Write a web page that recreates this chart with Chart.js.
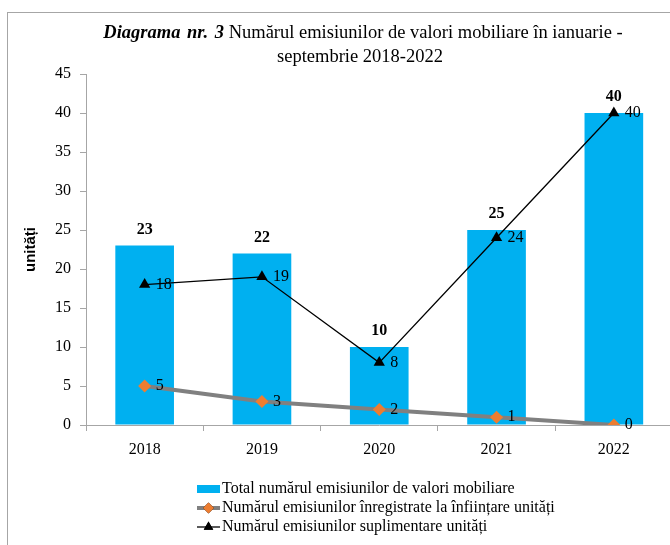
<!DOCTYPE html>
<html>
<head>
<meta charset="utf-8">
<script src="https://cdn.jsdelivr.net/npm/chart.js"></script>
<style>
      body { margin: 0; background: #fff; overflow: hidden; width: 670px; height: 545px; position: relative; }
      #frame { position: absolute; left: 7px; top: 12px; width: 700px; height: 600px; border-left: 1px solid #a6a6a6; border-top: 1px solid #a6a6a6; }
      #myChart { position: absolute; left: 0; top: 0; }
</style>
</head>
<body>
<div id="frame"></div>
<canvas id="myChart" width="725" height="545"></canvas>
<script>
/* данные графика */
const years = ['2018', '2019', '2020', '2021', '2022'];
const totalEmisiuni = [23, 22, 10, 25, 40];
const emisiuniInfiintare = [5, 3, 2, 1, 0];
const emisiuniSuplimentare = [18, 19, 8, 24, 40];
const yMin = 0, yMax = 45, yStep = 5;

const titleBold = 'Diagrama nr. 3';
const titleRest = ' Numărul emisiunilor de valori mobiliare în ianuarie -';
const titleLine2 = 'septembrie 2018-2022';
const yAxisTitle = 'unități';
const seriesNames = [
      'Total numărul emisiunilor de valori mobiliare',
      'Numărul emisiunilor înregistrate la înființare unități',
      'Numărul emisiunilor suplimentare unități'
];

const SERIF = '"Liberation Serif", "Times New Roman", serif';
const BLUE = '#00b0f0', ORANGE = '#ed7d31', GREY = '#808080';

/* заголовок из двух частей (жирный курсив + обычный) */
const titlePlugin = {
      id: 'mixedTitle',
      afterDraw(chart) {
            const ctx = chart.ctx;
            const cx = 363;
            ctx.save();
            ctx.fillStyle = '#000';
            ctx.textBaseline = 'middle';
            ctx.wordSpacing = '2px';
            ctx.font = 'italic bold 18.5px ' + SERIF;
            const w1 = ctx.measureText(titleBold).width;
            ctx.font = '18.5px ' + SERIF;
            const w2 = ctx.measureText(titleRest).width;
            let x = cx - (w1 + w2) / 2;
            ctx.textAlign = 'left';
            ctx.font = 'italic bold 18.5px ' + SERIF;
            ctx.fillText(titleBold, x, 33);
            ctx.font = '18.5px ' + SERIF;
            ctx.fillText(titleRest, x + w1, 33);
            ctx.wordSpacing = '0px';
            ctx.textAlign = 'center';
            ctx.fillText(titleLine2, cx - 3, 57);
            ctx.restore();
      }
};

/* подписи значений */
const labelsPlugin = {
      id: 'valueLabels',
      afterDatasetsDraw(chart) {
            const ctx = chart.ctx;
            ctx.save();
            ctx.fillStyle = '#000';
            chart.data.datasets.forEach((ds, i) => {
                  const meta = chart.getDatasetMeta(i);
                  meta.data.forEach((el, j) => {
                        const v = ds.data[j];
                        if (ds.type === 'bar') {
                              ctx.font = 'bold 16px ' + SERIF;
                              ctx.textAlign = 'center';
                              ctx.textBaseline = 'middle';
                              ctx.fillText(v, el.x, el.y - 16);
                        } else {
                              ctx.font = '16px ' + SERIF;
                              ctx.textAlign = 'left';
                              ctx.textBaseline = 'middle';
                              ctx.fillText(v, el.x + 11, el.y);
                        }
                  });
            });
            ctx.restore();
      }
};

/* легенда в столбик */
const legendPlugin = {
      id: 'colLegend',
      afterDraw(chart) {
            const ctx = chart.ctx;
            const x0 = 197, y0 = 489, dy = 19;
            ctx.save();
            ctx.font = '16px ' + SERIF;
            ctx.textBaseline = 'middle';
            ctx.textAlign = 'left';
            chart.data.datasets.forEach((ds, i) => {
                  const y = y0 + i * dy;
                  if (ds.type === 'bar') {
                        ctx.fillStyle = ds.backgroundColor;
                        ctx.fillRect(x0, y - 4, 23, 8);
                  } else {
                        ctx.strokeStyle = ds.borderColor;
                        ctx.lineWidth = ds.borderWidth;
                        ctx.beginPath();
                        ctx.moveTo(x0, y);
                        ctx.lineTo(x0 + 23, y);
                        ctx.stroke();
                        Chart.helpers.drawPoint(ctx, {
                              pointStyle: ds.pointStyle,
                              radius: ds.pointRadius - 1,
                              borderWidth: 0
                        }, x0 + 11.5, y);
                        ctx.fillStyle = ds.pointBackgroundColor;
                        ctx.fill();
                  }
                  ctx.fillStyle = '#000';
                  ctx.fillText(seriesNames[i], x0 + 25, y);
            });
            ctx.restore();
      }
};

const chart = new Chart(document.getElementById('myChart'), {
      data: {
            labels: years,
            datasets: [{
                  type: 'bar',
                  label: seriesNames[0],
                  data: totalEmisiuni,
                  backgroundColor: BLUE,
                  barPercentage: 0.5,
                  categoryPercentage: 1,
                  order: 3
            }, {
                  type: 'line',
                  label: seriesNames[1],
                  data: emisiuniInfiintare,
                  borderColor: GREY,
                  borderWidth: 4,
                  pointStyle: 'rectRot',
                  pointRadius: 6.5,
                  pointBackgroundColor: ORANGE,
                  pointBorderColor: ORANGE,
                  pointBorderWidth: 0,
                  tension: 0,
                  order: 2
            }, {
                  type: 'line',
                  label: seriesNames[2],
                  data: emisiuniSuplimentare,
                  borderColor: '#000',
                  borderWidth: 1.3,
                  pointStyle: 'triangle',
                  pointRadius: 6.5,
                  pointBackgroundColor: '#000',
                  pointBorderColor: '#000',
                  pointBorderWidth: 0,
                  tension: 0,
                  order: 1
            }]
      },
      options: {
            responsive: false,
            animation: false,
            layout: { padding: { left: 0, right: 52.5, top: 74, bottom: 0 } },
            plugins: {
                  legend: { display: false },
                  title: { display: false },
                  tooltip: { enabled: false }
            },
            scales: {
                  x: {
                        grid: { offset: true, drawOnChartArea: false, tickLength: 6, color: '#a6a6a6' },
                        border: { color: '#a6a6a6', width: 1 },
                        ticks: { color: '#000', font: { family: SERIF, size: 16 }, padding: 9, maxRotation: 0 },
                        afterFit: (s) => { s.height = 120; }
                  },
                  y: {
                        min: yMin,
                        max: yMax,
                        ticks: { stepSize: yStep, color: '#000', font: { family: SERIF, size: 16 }, padding: 9 },
                        grid: { drawOnChartArea: false, tickLength: 6, color: '#a6a6a6' },
                        border: { color: '#a6a6a6', width: 1 },
                        title: {
                              display: true,
                              text: yAxisTitle,
                              color: '#000',
                              font: { family: '"Liberation Sans", Arial, sans-serif', size: 15, weight: 'bold' },
                              padding: { top: 22, bottom: 0 }
                        },
                        afterFit: (s) => { s.width = 86; }
                  }
            }
      },
      plugins: [titlePlugin, labelsPlugin, legendPlugin]
});
</script>
</body>
</html>
